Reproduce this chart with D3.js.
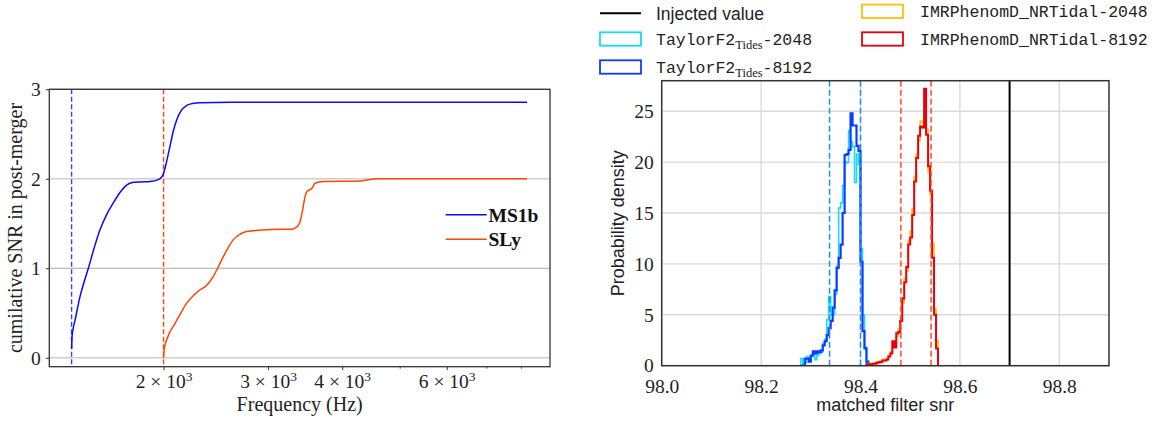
<!DOCTYPE html>
<html>
<head>
<meta charset="utf-8">
<script src="https://cdn.jsdelivr.net/npm/d3@7"></script>
<style>
  html, body { margin: 0; padding: 0; background: #fff; }
  svg { display: block; }
</style>
</head>
<body>
<svg id="fig" width="1166" height="424"></svg>
<script>
// ---------- Left panel: cumulative post-merger SNR vs frequency ----------
const ms1bFreq = [1400, 1403, 1407, 1413, 1419, 1428, 1437, 1446, 1470, 1494, 1527, 1563, 1604, 1646, 1690, 1733, 1780, 1826, 1900, 1972, 2000, 2025, 2050, 2075, 2105, 2140, 2188, 2250, 2305, 2600, 4000, 8192];
const ms1bSnr  = [0.10, 0.25, 0.31, 0.37, 0.42, 0.51, 0.60, 0.68, 0.85, 1.00, 1.22, 1.43, 1.60, 1.73, 1.85, 1.93, 1.96, 1.965, 1.97, 2.00, 2.06, 2.20, 2.36, 2.52, 2.66, 2.76, 2.82, 2.845, 2.85, 2.855, 2.855, 2.855];

const slyFreq = [2000, 2003, 2010, 2025, 2050, 2077, 2130, 2188, 2250, 2305, 2365, 2426, 2475, 2522, 2570, 2622, 2690, 2761, 2984, 3309, 3331, 3365, 3396, 3430, 3463, 3490, 3508, 3530, 3553, 3599, 3716, 4285, 4430, 4573, 8192];
const slySnr  = [0.00, 0.06, 0.13, 0.20, 0.29, 0.35, 0.48, 0.61, 0.70, 0.76, 0.81, 0.91, 1.02, 1.13, 1.23, 1.32, 1.38, 1.41, 1.43, 1.44, 1.45, 1.47, 1.52, 1.65, 1.80, 1.86, 1.87, 1.88, 1.89, 1.95, 1.97, 1.975, 1.99, 2.00, 2.00];

const eosNames = ["MS1b", "SLy"];
const mergerFreq = [1400, 2000];          // frequency where each post-merger signal begins
const freqDomain = [1284, 8956];
const snrDomain = [-0.1, 3.0];
const freqTicks = [2000, 3000, 4000, 6000];
const freqTickMantissa = ["2", "3", "4", "6"];
const freqMinorTicks = [5000, 7000, 8000];
const snrTicks = [0, 1, 2, 3];

// ---------- Right panel: matched filter SNR posteriors ----------
const binWidth = 0.004;
const tf2BinStart = 98.280;
const tf2_2048 = [0.7, 0, 0.3, 0.9, 0.5, 0.9, 1.2, 0.6, 1.0, 1.4, 1.3, 2.2, 2.6, 4.5, 6.8, 5.0, 5.0, 7.0, 9.8, 15.5, 16.0, 17.7, 19.9, 20.0, 23.1, 22.0, 21.5, 18.0, 20.8, 19.8, 11.5, 5.0, 1.8, 0];
const tf2_8192 = [0, 0, 0.7, 0.7, 0.4, 1.0, 1.4, 1.2, 1.4, 1.3, 1.5, 2.0, 2.4, 3.0, 3.7, 4.4, 5.7, 7.4, 9.6, 10.6, 11.9, 15.0, 20.7, 20.8, 21.2, 24.8, 23.6, 23.6, 21.6, 21.1, 10.2, 3.4, 1.7, 0.4];
const imrBinStart = 98.412;
const imr_2048 = [0.1, 0.2, 0.1, 0.2, 0.3, 0.3, 0.4, 0.3, 0.6, 0.5, 0.7, 1.0, 1.4, 2.0, 2.2, 2.9, 3.6, 4.7, 6.2, 8.6, 9.3, 12.3, 13.2, 15.4, 18.6, 20.8, 22.1, 24.0, 23.9, 24.5, 23.2, 19.0, 16.8, 12.0, 5.6, 2.5];
const imr_8192 = [0.15, 0.15, 0.15, 0.2, 0.2, 0.3, 0.35, 0.4, 0.5, 0.5, 0.6, 0.9, 1.2, 2.4, 1.8, 3.2, 3.3, 4.4, 6.6, 8.2, 9.7, 11.9, 12.6, 14.8, 18.1, 20.4, 22.6, 23.5, 23.4, 27.2, 22.7, 19.6, 17.2, 10.6, 5.0, 1.7];
const tf2Interval = [98.3377, 98.4000];
const imrInterval = [98.4813, 98.5420];
const injectedSnr = 98.70;
const mfDomain = [98.0, 98.9];
const mfTicks = [98.0, 98.2, 98.4, 98.6, 98.8];
const densDomain = [0, 28];
const densTicks = [0, 5, 10, 15, 20, 25];

const SERIF = "Liberation Serif";
const SANS = "Liberation Sans";
const MONO = "Liberation Mono";

const svg = d3.select("#fig");
svg.append("rect").attr("width", 1166).attr("height", 424).attr("fill", "#fff");

// ================= Left panel =================
const L = { x0: 49.3, x1: 550, y0: 89.3, y1: 366.7 };
const xL = d3.scaleLog().domain(freqDomain).range([L.x0, L.x1]);
const yL = d3.scaleLinear().domain(snrDomain).range([L.y1, L.y0]);
const left = svg.append("g");

// horizontal grid
left.append("g").selectAll("line").data(snrTicks).join("line")
  .attr("x1", L.x0).attr("x2", L.x1)
  .attr("y1", d => yL(d)).attr("y2", d => yL(d))
  .attr("stroke", d => d === 1 ? "#a8a8a8" : "#cfcfcf")
  .attr("stroke-width", d => d === 1 ? 1 : 1.6);

// merger-frequency markers
const eosColors = ["#0a0aff", "#ff4500"];
left.append("g").selectAll("line").data(mergerFreq).join("line")
  .attr("x1", d => xL(d)).attr("x2", d => xL(d))
  .attr("y1", L.y0).attr("y2", L.y1)
  .attr("stroke", (d, i) => i === 0 ? "#3c3cff" : "#ff4500")
  .attr("stroke-width", 1.4)
  .attr("stroke-dasharray", "5,2.5");

const snrLine = d3.line()
  .x(d => xL(d[0])).y(d => yL(d[1]))
  .curve(d3.curveMonotoneX);
const leftSeries = [
  d3.zip(ms1bFreq, ms1bSnr),
  d3.zip(slyFreq, slySnr)
];
left.append("g").selectAll("path").data(leftSeries).join("path")
  .attr("d", snrLine)
  .attr("fill", "none")
  .attr("stroke", (d, i) => eosColors[i])
  .attr("stroke-width", 1.5);

// x axis (log)
const gxL = left.append("g").attr("transform", `translate(0,${L.y1})`)
  .call(d3.axisBottom(xL).tickValues(freqTicks).tickSize(3.5).tickFormat(""));
gxL.select(".domain").remove();
gxL.selectAll(".tick line").attr("stroke", "#333").attr("stroke-width", 1);
gxL.selectAll(".tick").each(function (d, i) {
  const t = d3.select(this).append("text")
    .attr("y", 21.5).attr("fill", "#222")
    .attr("text-anchor", "middle")
    .attr("font-family", SERIF).attr("font-size", 19.5);
  t.append("tspan").text(freqTickMantissa[i] + " \u00d7 10");
  t.append("tspan").attr("dy", -7).attr("font-size", 13.5).text("3");
});
const gxLm = left.append("g").attr("transform", `translate(0,${L.y1})`)
  .call(d3.axisBottom(xL).tickValues(freqMinorTicks).tickSize(2).tickFormat(""));
gxLm.select(".domain").remove();
gxLm.selectAll(".tick line").attr("stroke", "#333").attr("stroke-width", 0.8);

// y axis
const gyL = left.append("g").attr("transform", `translate(${L.x0},0)`)
  .call(d3.axisLeft(yL).tickValues(snrTicks).tickSize(3.5).tickPadding(5).tickFormat(d3.format("d")))
  .attr("font-family", SERIF).attr("font-size", 19.5);
gyL.select(".domain").remove();
gyL.selectAll(".tick line").attr("stroke", "#333");
gyL.selectAll(".tick text").attr("fill", "#222");

// frame
left.append("rect").attr("x", L.x0).attr("y", L.y0)
  .attr("width", L.x1 - L.x0).attr("height", L.y1 - L.y0)
  .attr("fill", "none").attr("stroke", "#333").attr("stroke-width", 1.3);

// axis titles
left.append("text").attr("x", (L.x0 + L.x1) / 2).attr("y", 411)
  .attr("text-anchor", "middle").attr("fill", "#222")
  .attr("font-family", SERIF).attr("font-size", 20)
  .text("Frequency (Hz)");
left.append("text").attr("transform", `translate(22,${(L.y0 + L.y1) / 2}) rotate(-90)`)
  .attr("text-anchor", "middle").attr("fill", "#222")
  .attr("font-family", SERIF).attr("font-size", 20)
  .text("cumilative SNR in post-merger");

// legend
const legL = left.append("g");
eosNames.forEach((name, i) => {
  const y = 214.7 + i * 24.6;
  legL.append("line").attr("x1", 445.7).attr("x2", 486.7).attr("y1", y).attr("y2", y)
    .attr("stroke", eosColors[i]).attr("stroke-width", 1.5);
  legL.append("text").attr("x", 488.5).attr("y", y + 7)
    .attr("fill", "#111")
    .attr("font-family", SERIF).attr("font-weight", "bold").attr("font-size", 19.5)
    .text(name);
});

// ================= Right panel =================
const R = { x0: 661.7, x1: 1109, y0: 80.7, y1: 365.7 };
const xR = d3.scaleLinear().domain(mfDomain).range([R.x0, R.x1]);
const yR = d3.scaleLinear().domain(densDomain).range([R.y1, R.y0]);
const right = svg.append("g");

svg.append("defs").append("clipPath").attr("id", "clipR")
  .append("rect").attr("x", R.x0).attr("y", R.y0)
  .attr("width", R.x1 - R.x0).attr("height", R.y1 - R.y0);

// grid
right.append("g").selectAll("line").data(mfTicks).join("line")
  .attr("x1", d => xR(d)).attr("x2", d => xR(d))
  .attr("y1", R.y0).attr("y2", R.y1)
  .attr("stroke", "#dadada").attr("stroke-width", 1.4);
right.append("g").selectAll("line").data(densTicks).join("line")
  .attr("x1", R.x0).attr("x2", R.x1)
  .attr("y1", d => yR(d)).attr("y2", d => yR(d))
  .attr("stroke", "#dadada").attr("stroke-width", 1.4);

// step histograms
function stepPoints(start, width, dens) {
  const pts = [[start, 0]];
  dens.forEach((v, i) => pts.push([start + i * width, v]));
  pts.push([start + dens.length * width, 0]);
  return pts;
}
const stepLine = d3.line().x(d => xR(d[0])).y(d => yR(d[1])).curve(d3.curveStepAfter);
const hists = [
  { name: "TaylorF2-2048", start: tf2BinStart, dens: tf2_2048, color: "#12dcf6", width: 1.6 },
  { name: "TaylorF2-8192", start: tf2BinStart, dens: tf2_8192, color: "#0a3cff", width: 2.2 },
  { name: "IMRPhenomD_NRTidal-2048", start: imrBinStart, dens: imr_2048, color: "#ffbe0a", width: 1.6 },
  { name: "IMRPhenomD_NRTidal-8192", start: imrBinStart, dens: imr_8192, color: "#e8000c", width: 2.0 }
];
const histG = right.append("g").attr("clip-path", "url(#clipR)");
histG.selectAll("path").data(hists).join("path")
  .attr("d", h => stepLine(stepPoints(h.start, binWidth, h.dens)))
  .attr("fill", "none")
  .attr("stroke", h => h.color)
  .attr("stroke-width", h => h.width)
  .attr("stroke-linejoin", "miter");

// 90% credible bounds
const bounds = [
  ...tf2Interval.map(v => ({ v, color: "#1c8cff" })),
  ...imrInterval.map(v => ({ v, color: "#ff4a26" }))
];
right.append("g").selectAll("line").data(bounds).join("line")
  .attr("x1", d => xR(d.v)).attr("x2", d => xR(d.v))
  .attr("y1", R.y0).attr("y2", R.y1)
  .attr("stroke", d => d.color).attr("stroke-width", 1.5)
  .attr("stroke-dasharray", "6,3");

// injected value
right.append("line")
  .attr("x1", xR(injectedSnr)).attr("x2", xR(injectedSnr))
  .attr("y1", R.y0).attr("y2", R.y1)
  .attr("stroke", "#000").attr("stroke-width", 2);

// axes
const gxR = right.append("g").attr("transform", `translate(0,${R.y1})`)
  .call(d3.axisBottom(xR).tickValues(mfTicks).tickSize(0).tickPadding(13).tickFormat(d3.format(".1f")))
  .attr("font-family", SERIF).attr("font-size", 19.5);
gxR.select(".domain").remove();
gxR.selectAll(".tick text").attr("fill", "#222");
const gyR = right.append("g").attr("transform", `translate(${R.x0},0)`)
  .call(d3.axisLeft(yR).tickValues(densTicks).tickSize(0).tickPadding(8).tickFormat(d3.format("d")))
  .attr("font-family", SERIF).attr("font-size", 19.5);
gyR.select(".domain").remove();
gyR.selectAll(".tick text").attr("fill", "#222");

right.append("rect").attr("x", R.x0).attr("y", R.y0)
  .attr("width", R.x1 - R.x0).attr("height", R.y1 - R.y0)
  .attr("fill", "none").attr("stroke", "#333").attr("stroke-width", 1.5);

right.append("text").attr("x", (R.x0 + R.x1) / 2).attr("y", 411)
  .attr("text-anchor", "middle").attr("fill", "#222")
  .attr("font-family", SANS).attr("font-size", 18)
  .text("matched filter snr");
right.append("text").attr("transform", `translate(624,${(R.y0 + R.y1) / 2}) rotate(-90)`)
  .attr("text-anchor", "middle").attr("fill", "#222")
  .attr("font-family", SANS).attr("font-size", 18)
  .text("Probability density");

// legend
const legR = svg.append("g");
legR.append("line").attr("x1", 600).attr("x2", 641).attr("y1", 13.3).attr("y2", 13.3)
  .attr("stroke", "#000").attr("stroke-width", 2);
legR.append("text").attr("x", 656).attr("y", 19.5).attr("fill", "#222")
  .attr("font-family", SANS).attr("font-size", 17.5).text("Injected value");

const legItems = [
  { h: hists[0], col: 0, row: 1, base: "TaylorF2", sub: "Tides", tail: "-2048" },
  { h: hists[1], col: 0, row: 2, base: "TaylorF2", sub: "Tides", tail: "-8192" },
  { h: hists[2], col: 1, row: 0, base: "IMRPhenomD_NRTidal-2048", sub: "", tail: "" },
  { h: hists[3], col: 1, row: 1, base: "IMRPhenomD_NRTidal-8192", sub: "", tail: "" }
];
const colX = [600, 862];
const colTextX = [656, 920];
const rowY = [11.3, 39, 67];
legItems.forEach(it => {
  const cy = rowY[it.row];
  legR.append("rect").attr("x", colX[it.col]).attr("y", cy - 6.7)
    .attr("width", 41).attr("height", 13.4)
    .attr("fill", "none").attr("stroke", it.h.color).attr("stroke-width", 1.8);
  const t = legR.append("text").attr("x", colTextX[it.col]).attr("y", cy + 6)
    .attr("fill", "#222")
    .attr("font-family", MONO).attr("font-size", 16.5);
  t.append("tspan").text(it.base);
  if (it.sub) {
    t.append("tspan").attr("dy", 4).attr("font-family", SERIF).attr("font-size", 12.5).text(it.sub);
    t.append("tspan").attr("dy", -4).text(it.tail);
  }
});
</script>
</body>
</html>
